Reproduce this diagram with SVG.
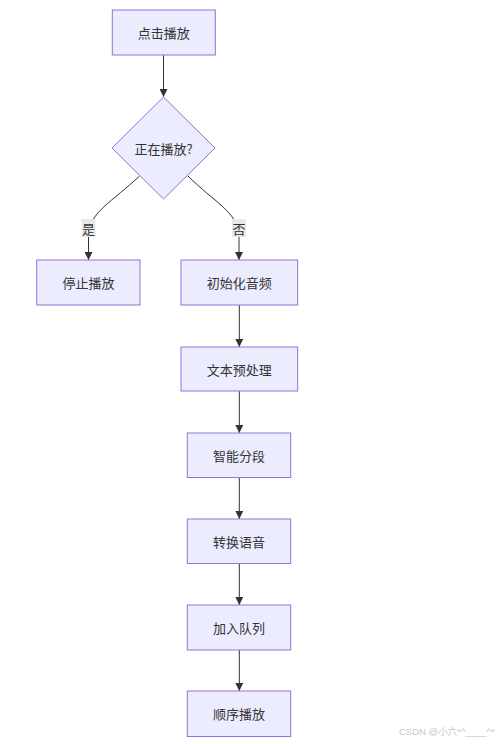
<svg xmlns="http://www.w3.org/2000/svg" width="504" height="745" viewBox="0 0 504 745">
<style>
.n{fill:#ECECFF;stroke:#9370DB;stroke-width:1}
.t{font-family:"Noto Sans CJK SC","Liberation Sans",sans-serif;font-size:13px;fill:#333;text-anchor:middle;dominant-baseline:central}
.e{fill:none;stroke:#333;stroke-width:1}
.lb{fill:#e8e8e8}
</style>
<defs>
<marker id="ar" viewBox="0 0 10 10" refX="10" refY="5" markerWidth="8" markerHeight="8" markerUnits="userSpaceOnUse" orient="auto">
<path d="M0,0L10,5L0,10z" fill="#333"/>
</marker>
</defs>
<rect width="504" height="745" fill="#fff"/>
<g id="edges">
<path class="e" d="M163.5,55V97" marker-end="url(#ar)"/>
<path class="e" d="M139.5,176C112,202 90,212 88.5,234V260" marker-end="url(#ar)"/>
<path class="e" d="M188,176C214,202 237,212 239,234V260" marker-end="url(#ar)"/>
<path class="e" d="M239.3,305V347" marker-end="url(#ar)"/>
<path class="e" d="M239.3,391V433" marker-end="url(#ar)"/>
<path class="e" d="M239.3,477V519" marker-end="url(#ar)"/>
<path class="e" d="M239.3,563V605" marker-end="url(#ar)"/>
<path class="e" d="M239.3,650V691" marker-end="url(#ar)"/>
<rect class="lb" x="81.5" y="219" width="14" height="18"/>
<text class="t" x="88.5" y="228">是</text>
<rect class="lb" x="232" y="219" width="14" height="18"/>
<text class="t" x="239" y="228">否</text>
</g>
<g id="n1"><rect class="n" x="112.3" y="10" width="103" height="45"/><text class="t" x="163.8" y="32.5">点击播放</text></g>
<g id="n2"><path class="n" d="M163.5,97L215,148L163.5,199L112,148Z"/><text class="t" x="163.5" y="148">正在播放?</text></g>
<g id="n3"><rect class="n" x="36.7" y="260" width="103.3" height="45"/><text class="t" x="88.4" y="282.5">停止播放</text></g>
<g id="n4"><rect class="n" x="181" y="260" width="116.7" height="45"/><text class="t" x="239.3" y="282.5">初始化音频</text></g>
<g id="n5"><rect class="n" x="181" y="347" width="116.7" height="44"/><text class="t" x="239.3" y="369">文本预处理</text></g>
<g id="n6"><rect class="n" x="187.3" y="433" width="103.4" height="44.5"/><text class="t" x="239" y="455">智能分段</text></g>
<g id="n7"><rect class="n" x="187.3" y="519" width="103.4" height="44.5"/><text class="t" x="239" y="541">转换语音</text></g>
<g id="n8"><rect class="n" x="187.3" y="605" width="103.4" height="45"/><text class="t" x="239" y="627.5">加入队列</text></g>
<g id="n9"><rect class="n" x="187.3" y="691" width="103.4" height="45.5"/><text class="t" x="239" y="713.5">顺序播放</text></g>
<text x="399" y="735" font-family="'Liberation Sans','Noto Sans CJK SC',sans-serif" font-size="9.5" fill="#c8c8c8">CSDN @小六*^____^*</text>
</svg>
